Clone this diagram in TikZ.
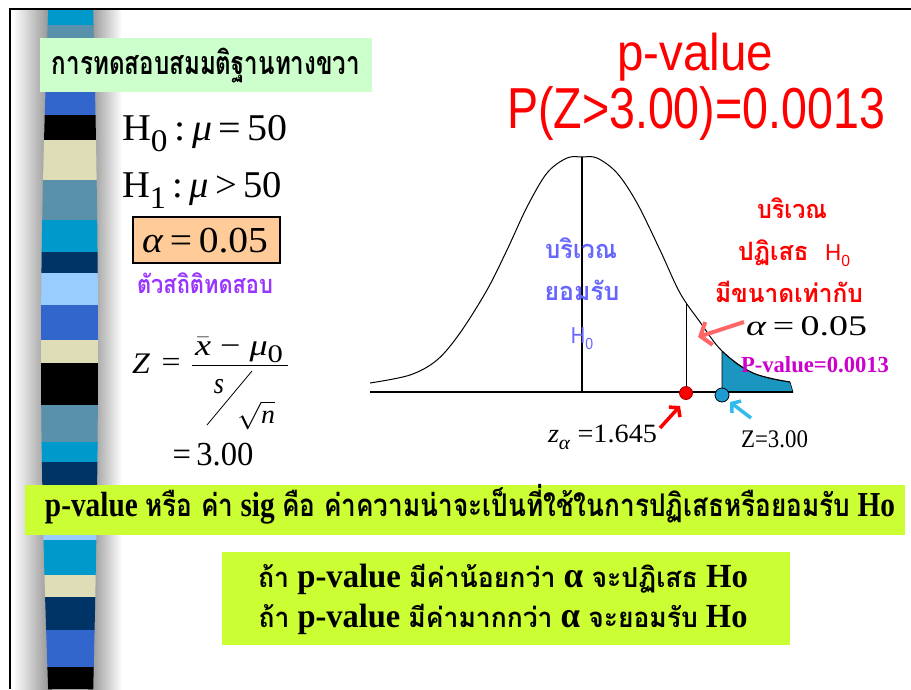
\documentclass[tikz,border=0pt]{standalone}
\usepackage{fontspec}
\usepackage{graphicx}
\usetikzlibrary{arrows.meta}
\setmainfont{Liberation Serif}
\newfontfamily\thai[Script=Thai]{Loma}
\newfontfamily\arial{Liberation Sans}
\definecolor{stCyan}{HTML}{0099CC}
\definecolor{stSteel}{HTML}{5990AA}
\definecolor{stRoyal}{HTML}{3366CC}
\definecolor{stBeige}{HTML}{DEDDB8}
\definecolor{stNavy}{HTML}{003366}
\definecolor{stLight}{HTML}{99CCFF}
\definecolor{lblGreen}{HTML}{CCFFCC}
\definecolor{boxLime}{HTML}{CCFF33}
\definecolor{peach}{HTML}{FFCC99}
\definecolor{accBlue}{HTML}{6666FF}
\definecolor{purp}{HTML}{9933FF}
\definecolor{magen}{HTML}{CC00CC}
\definecolor{tailTeal}{HTML}{1A96C0}
\definecolor{salmon}{HTML}{FF6666}
\definecolor{skyArrow}{HTML}{33BBEE}
\definecolor{dotBlue}{HTML}{1E9BD0}
\newsavebox\mybx
\newcommand\fitw[3]{\sbox\mybx{#3}\pgfmathsetmacro\sxf{#1/\the\wd\mybx}\scalebox{\sxf}[#2]{\usebox\mybx}}
\newcommand\fs[1]{\fontsize{#1}{#1}\selectfont}
\begin{document}
\begin{tikzpicture}[x=1pt,y=-1pt,
  txt/.style={inner sep=0pt, outer sep=0pt},
  bigarrow/.style={line width=4pt, -{Straight Barb[length=9pt,width=24pt]}},
  smallarrow/.style={line width=3.5pt, -{Straight Barb[length=6pt,width=15pt]}}]
\useasboundingbox (0,0) rectangle (911,689);
\fill[white] (0,0) rectangle (911,689);
% shadows of the stripe
\shade[left color=white, right color=black!45] (13,10) rectangle (52,689);
\shade[left color=black!45, right color=white] (88,10) rectangle (122,689);
% stripe
\foreach \a/\b/\c in {10/25/stCyan, 25/40/stSteel, 90/115/stRoyal, 115/140/black, 140/180/stBeige, 180/220/stSteel, 220/252/stCyan, 252/273/stNavy, 273/305/stLight, 305/340/stRoyal, 340/363/stBeige, 363/405/black, 405/442/stSteel, 442/462/stCyan, 462/488/stNavy, 533/540/stLight, 540/575/stCyan, 575/597/stBeige, 597/630/stNavy, 630/667/stRoyal, 667/689/black}{
  \pgfmathsetmacro\la{50-9*sin((\a+40)/780*180)}
  \pgfmathsetmacro\lb{50-9*sin((\b+40)/780*180)}
  \pgfmathsetmacro\ra{92+6*sin((\a+40)/780*180)}
  \pgfmathsetmacro\rb{92+6*sin((\b+40)/780*180)}
  \fill[\c] (\la,\a) -- (\ra,\a) -- (\rb,\b+0.4) -- (\lb,\b+0.4) -- cycle;
}
% frame
\draw[line width=2.5pt] (10,689) -- (10,9) -- (911,9);

% top-left label
\node[txt, fill=lblGreen, minimum width=332pt, minimum height=54pt] (lbl) at (206,65) {};
\node[txt, anchor=base] (lblt) at (206,74) {\fitw{308}{1.15}{\thai\bfseries\fs{28}การทดสอบสมมติฐานทางขวา}};

% hypotheses
\node[txt, anchor=base west] (h0) at (122,140) {\fitw{166}{1.26}{\fs{30}H\raisebox{-0.3em}{\fs{25}0}\,:\,\textit{μ}\,=\,50}};
\node[txt, anchor=base west] (h1) at (122,197) {\fitw{160}{1.26}{\fs{30}H\raisebox{-0.3em}{\fs{25}1}\,:\,\textit{μ}\,>\,50}};
\node[txt, fill=peach, draw=black, line width=1.2pt, minimum width=147pt, minimum height=46pt] (abox) at (206.5,240) {};
\node[txt, anchor=base] (alpha) at (205,252) {\fitw{126}{1.22}{\fs{30}\textit{α}\,=\,0.05}};
\node[txt, anchor=base, text=purp] (tstat) at (205,293) {\fitw{136}{1.15}{\thai\bfseries\fs{22}ตัวสถิติทดสอบ}};

% Z formula
\node[txt, anchor=base] (zlhs) at (141,373) {\fitw{18}{1.15}{\fs{26}\textit{Z}}};
\node[txt, anchor=base] (zeq) at (171,371) {\fitw{19}{1.1}{\fs{26}=}};
\node[txt, anchor=base] (znum) at (239,355) {\fitw{88}{1.15}{\fs{26}$\bar{\textit{x}}$\ −\ \textit{μ}\raisebox{-0.25em}{\fs{22}0}}};
\coordinate (fbl) at (192,365);
\coordinate (fbr) at (288,365);
\draw[line width=1pt] (fbl) -- (fbr);
\node[txt, anchor=base] (zs) at (219,393) {\scalebox{1}[1.15]{\fs{26}\textit{s}}};
\coordinate (sl1) at (207,425);
\coordinate (sl2) at (252,371);
\draw[line width=0.8pt] (sl1) -- (sl2);
\node[txt, anchor=base] (zrt) at (256,423) {\fitw{38}{1.1}{\fs{24}$\sqrt{\textit{n}}$}};
\node[txt, anchor=base] (zres) at (213,465) {\fitw{81}{1.2}{\fs{28}=\,3.00}};

% title
\node[txt, anchor=base, text=red] (t1) at (695,70) {\fitw{156}{1.1}{\arial\fs{47}p-value}};
\node[txt, anchor=base, text=red] (t2) at (696,128) {\fitw{378}{1.23}{\arial\fs{47}P(Z>3.00)=0.0013}};

% normal curve
\fill[tailTeal, draw=black, line width=0.6pt] plot[smooth] coordinates {(722,351) (737,364) (753,373) (772,379) (790,382)} -- (793,392) -- (722,392) -- cycle;
\draw[line width=1pt] plot[smooth, tension=0.55] coordinates {(370,383) (410,375) (437,360) (460,333) (487,290) (507,250) (527,207) (547,173) (567,158) (582,157) (597,158) (617,173) (637,203) (660,250) (680,293) (700,322) (722,351) (753,373) (790,382)};
\coordinate (axL) at (370,392);
\coordinate (axR) at (793,392);
\draw[line width=1.6pt] (axL) -- (axR);
\coordinate (peak) at (582,157);
\coordinate (meanB) at (582,392);
\draw[line width=2.6pt] (peak) -- (meanB);
\coordinate (zaTop) at (686,303);
\node[circle, fill=red, draw=red!60!black, line width=0.8pt, minimum size=13pt, inner sep=0pt] (reddot) at (686,393) {};
\draw[line width=1pt] (zaTop) -- (reddot);
\node[circle, fill=dotBlue, draw=black, line width=0.8pt, minimum size=14pt, inner sep=0pt] (bluedot) at (722,395) {};

% arrows
\coordinate (saTail) at (744,322);
\coordinate (saTip) at (698,337);
\draw[salmon, bigarrow] (saTail) -- (saTip);
\coordinate (raTail) at (660,428);
\coordinate (raTip) at (680,406);
\draw[red, smallarrow] (raTail) -- (raTip);
\coordinate (baTail) at (751,418);
\coordinate (baTip) at (730,402);
\draw[skyArrow, smallarrow] (baTail) -- (baTip);

% curve labels
\node[txt, anchor=base, text=accBlue] (acc1) at (581,258) {\fitw{72}{1.15}{\thai\bfseries\fs{22}บริเวณ}};
\node[txt, anchor=base, text=accBlue] (acc2) at (582,300) {\fitw{75}{1.15}{\thai\bfseries\fs{22}ยอมรับ}};
\node[txt, anchor=base, text=accBlue] (acc3) at (582,343) {\scalebox{1}[1.15]{\arial\fs{20}H\raisebox{-0.3em}{\fs{14}0}}};
\node[txt, anchor=base, text=red] (rej1) at (792,218) {\fitw{70}{1.15}{\thai\bfseries\fs{22}บริเวณ}};
\node[txt, anchor=base, text=red] (rej2) at (794,260) {\fitw{112}{1.15}{\thai\bfseries\fs{22}ปฏิเสธ\ \ {\arial\mdseries\fs{20}H\raisebox{-0.3em}{\fs{14}0}}}};
\node[txt, anchor=base, text=red] (rej3) at (789,302) {\fitw{148}{1.15}{\thai\bfseries\fs{22}มีขนาดเท่ากับ}};
\node[txt, anchor=base] (alpha2) at (806.5,335) {\fitw{121}{0.95}{\fs{30}\textit{α}\,=\,0.05}};
\node[txt, anchor=base, text=magen] (pval) at (815,372) {\fitw{148}{1.0}{\bfseries\fs{23}P-value=0.0013}};
\node[txt, anchor=base] (zalpha) at (602.5,442) {\fitw{109}{1.1}{\fs{24}\textit{z}\raisebox{-0.3em}{\fs{18}\textit{α}}\ =1.645}};
\node[txt, anchor=base] (zval) at (774.5,447) {\fitw{67}{1.1}{\fs{23}Z=3.00}};

% bottom boxes
\node[txt, fill=boxLime, minimum width=880pt, minimum height=50pt] (box1) at (465,510) {};
\node[txt, anchor=base] (box1t) at (470,516) {\fitw{850}{1.25}{\fs{28}\bfseries p-value {\thai\fs{25}หรือ ค่า} sig {\thai\fs{25}คือ ค่าความน่าจะเป็นที่ใช้ในการปฏิเสธหรือยอมรับ} Ho}};
\node[txt, fill=boxLime, minimum width=568pt, minimum height=93pt] (box2) at (506,598.5) {};
\node[txt, anchor=base] (box2a) at (503,587) {\fitw{490}{1.25}{\fs{27}\bfseries {\thai\fs{22}ถ้า} p-value {\thai\fs{22}มีค่าน้อยกว่า} {\fs{29}α} {\thai\fs{22}จะปฏิเสธ} Ho}};
\node[txt, anchor=base] (box2b) at (503,627) {\fitw{489}{1.25}{\fs{27}\bfseries {\thai\fs{22}ถ้า} p-value {\thai\fs{22}มีค่ามากกว่า} {\fs{29}α} {\thai\fs{22}จะยอมรับ} Ho}};
\end{tikzpicture}
\end{document}
